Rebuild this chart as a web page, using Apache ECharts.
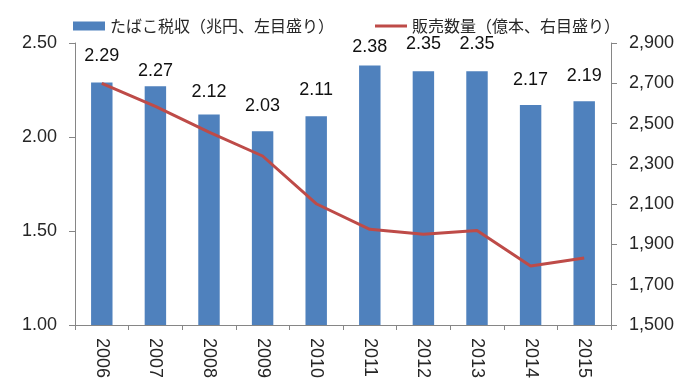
<!DOCTYPE html>
<html>
<head>
<meta charset="utf-8">
<script src="https://cdn.jsdelivr.net/npm/echarts@6/dist/echarts.min.js"></script>
<style>
html,body{margin:0;padding:0;background:#fff;}
#chart{width:684px;height:384px;}
</style>
</head>
<body>
<div id="chart"></div>
<script>
const years = ['2006','2007','2008','2009','2010','2011','2012','2013','2014','2015'];
const taxRevenue = [2.29, 2.27, 2.12, 2.03, 2.11, 2.38, 2.35, 2.35, 2.17, 2.19];
const salesVolume = [2700, 2585, 2458, 2339, 2102, 1975, 1951, 1969, 1793, 1833];
const leftTicks = { min: 1.0, max: 2.5, interval: 0.5 };
const rightTicks = { min: 1500, max: 2900, interval: 200 };
const seriesNames = ['たばこ税収（兆円、左目盛り）', '販売数量（億本、右目盛り）'];

// label lift above each bar (styling only)
const labelLift = [17, 6, 13, 16, 17, 10, 18, 18, 16, 16];

const chart = echarts.init(document.getElementById('chart'), null, { renderer: 'canvas' });
const axisColor = '#868686';
const textColor = '#262626';
const numFont = 'Liberation Sans';

chart.setOption({
  backgroundColor: '#ffffff',
  animation: false,
  legend: {
    left: 68,
    top: 13,
    itemGap: 41,
    itemWidth: 32,
    itemHeight: 9,
    symbolKeepAspect: true,
    textStyle: { fontFamily: 'Noto Sans CJK JP', fontSize: 16, color: textColor },
    data: [
      { name: seriesNames[0], icon: 'rect' },
      { name: seriesNames[1], icon: 'path://M0,0L32,0L32,3L0,3Z' }
    ]
  },
  grid: { left: 75, right: 73, top: 43, bottom: 59, containLabel: false },
  xAxis: {
    type: 'category',
    data: years,
    boundaryGap: true,
    axisLine: { lineStyle: { color: axisColor, width: 1 } },
    axisTick: { show: true, length: 5, alignWithLabel: false, lineStyle: { color: axisColor } },
    axisLabel: { rotate: -90, margin: 13, fontFamily: numFont, fontSize: 18, color: textColor, interval: 0 },
    splitLine: { show: false }
  },
  yAxis: [
    {
      type: 'value',
      position: 'left',
      min: leftTicks.min, max: leftTicks.max, interval: leftTicks.interval,
      axisLine: { show: true, lineStyle: { color: axisColor, width: 1 } },
      axisTick: { show: true, length: 6, lineStyle: { color: axisColor } },
      axisLabel: { margin: 18, fontFamily: numFont, fontSize: 18, color: textColor,
        formatter: v => v.toFixed(2) },
      splitLine: { show: false }
    },
    {
      type: 'value',
      position: 'right',
      min: rightTicks.min, max: rightTicks.max, interval: rightTicks.interval,
      axisLine: { show: true, lineStyle: { color: axisColor, width: 1 } },
      axisTick: { show: true, length: 6, lineStyle: { color: axisColor } },
      axisLabel: { margin: 18, fontFamily: numFont, fontSize: 18, color: textColor,
        formatter: v => v.toLocaleString('en-US') },
      splitLine: { show: false }
    }
  ],
  series: [
    {
      name: seriesNames[0],
      type: 'bar',
      yAxisIndex: 0,
      barWidth: '40%',
      itemStyle: { color: '#4F81BD' },
      data: taxRevenue.map((v, i) => ({
        value: v,
        label: { show: true, position: 'top', distance: labelLift[i] }
      })),
      label: {
        show: true, position: 'top',
        fontFamily: numFont, fontSize: 18, color: '#111',
        formatter: p => Number(p.value).toFixed(2)
      },
      z: 2
    },
    {
      name: seriesNames[1],
      type: 'line',
      yAxisIndex: 1,
      data: salesVolume,
      symbol: 'none',
      showSymbol: false,
      lineStyle: { color: '#BE4B48', width: 3 },
      itemStyle: { color: '#BE4B48' },
      z: 3
    }
  ]
});
</script>
</body>
</html>
